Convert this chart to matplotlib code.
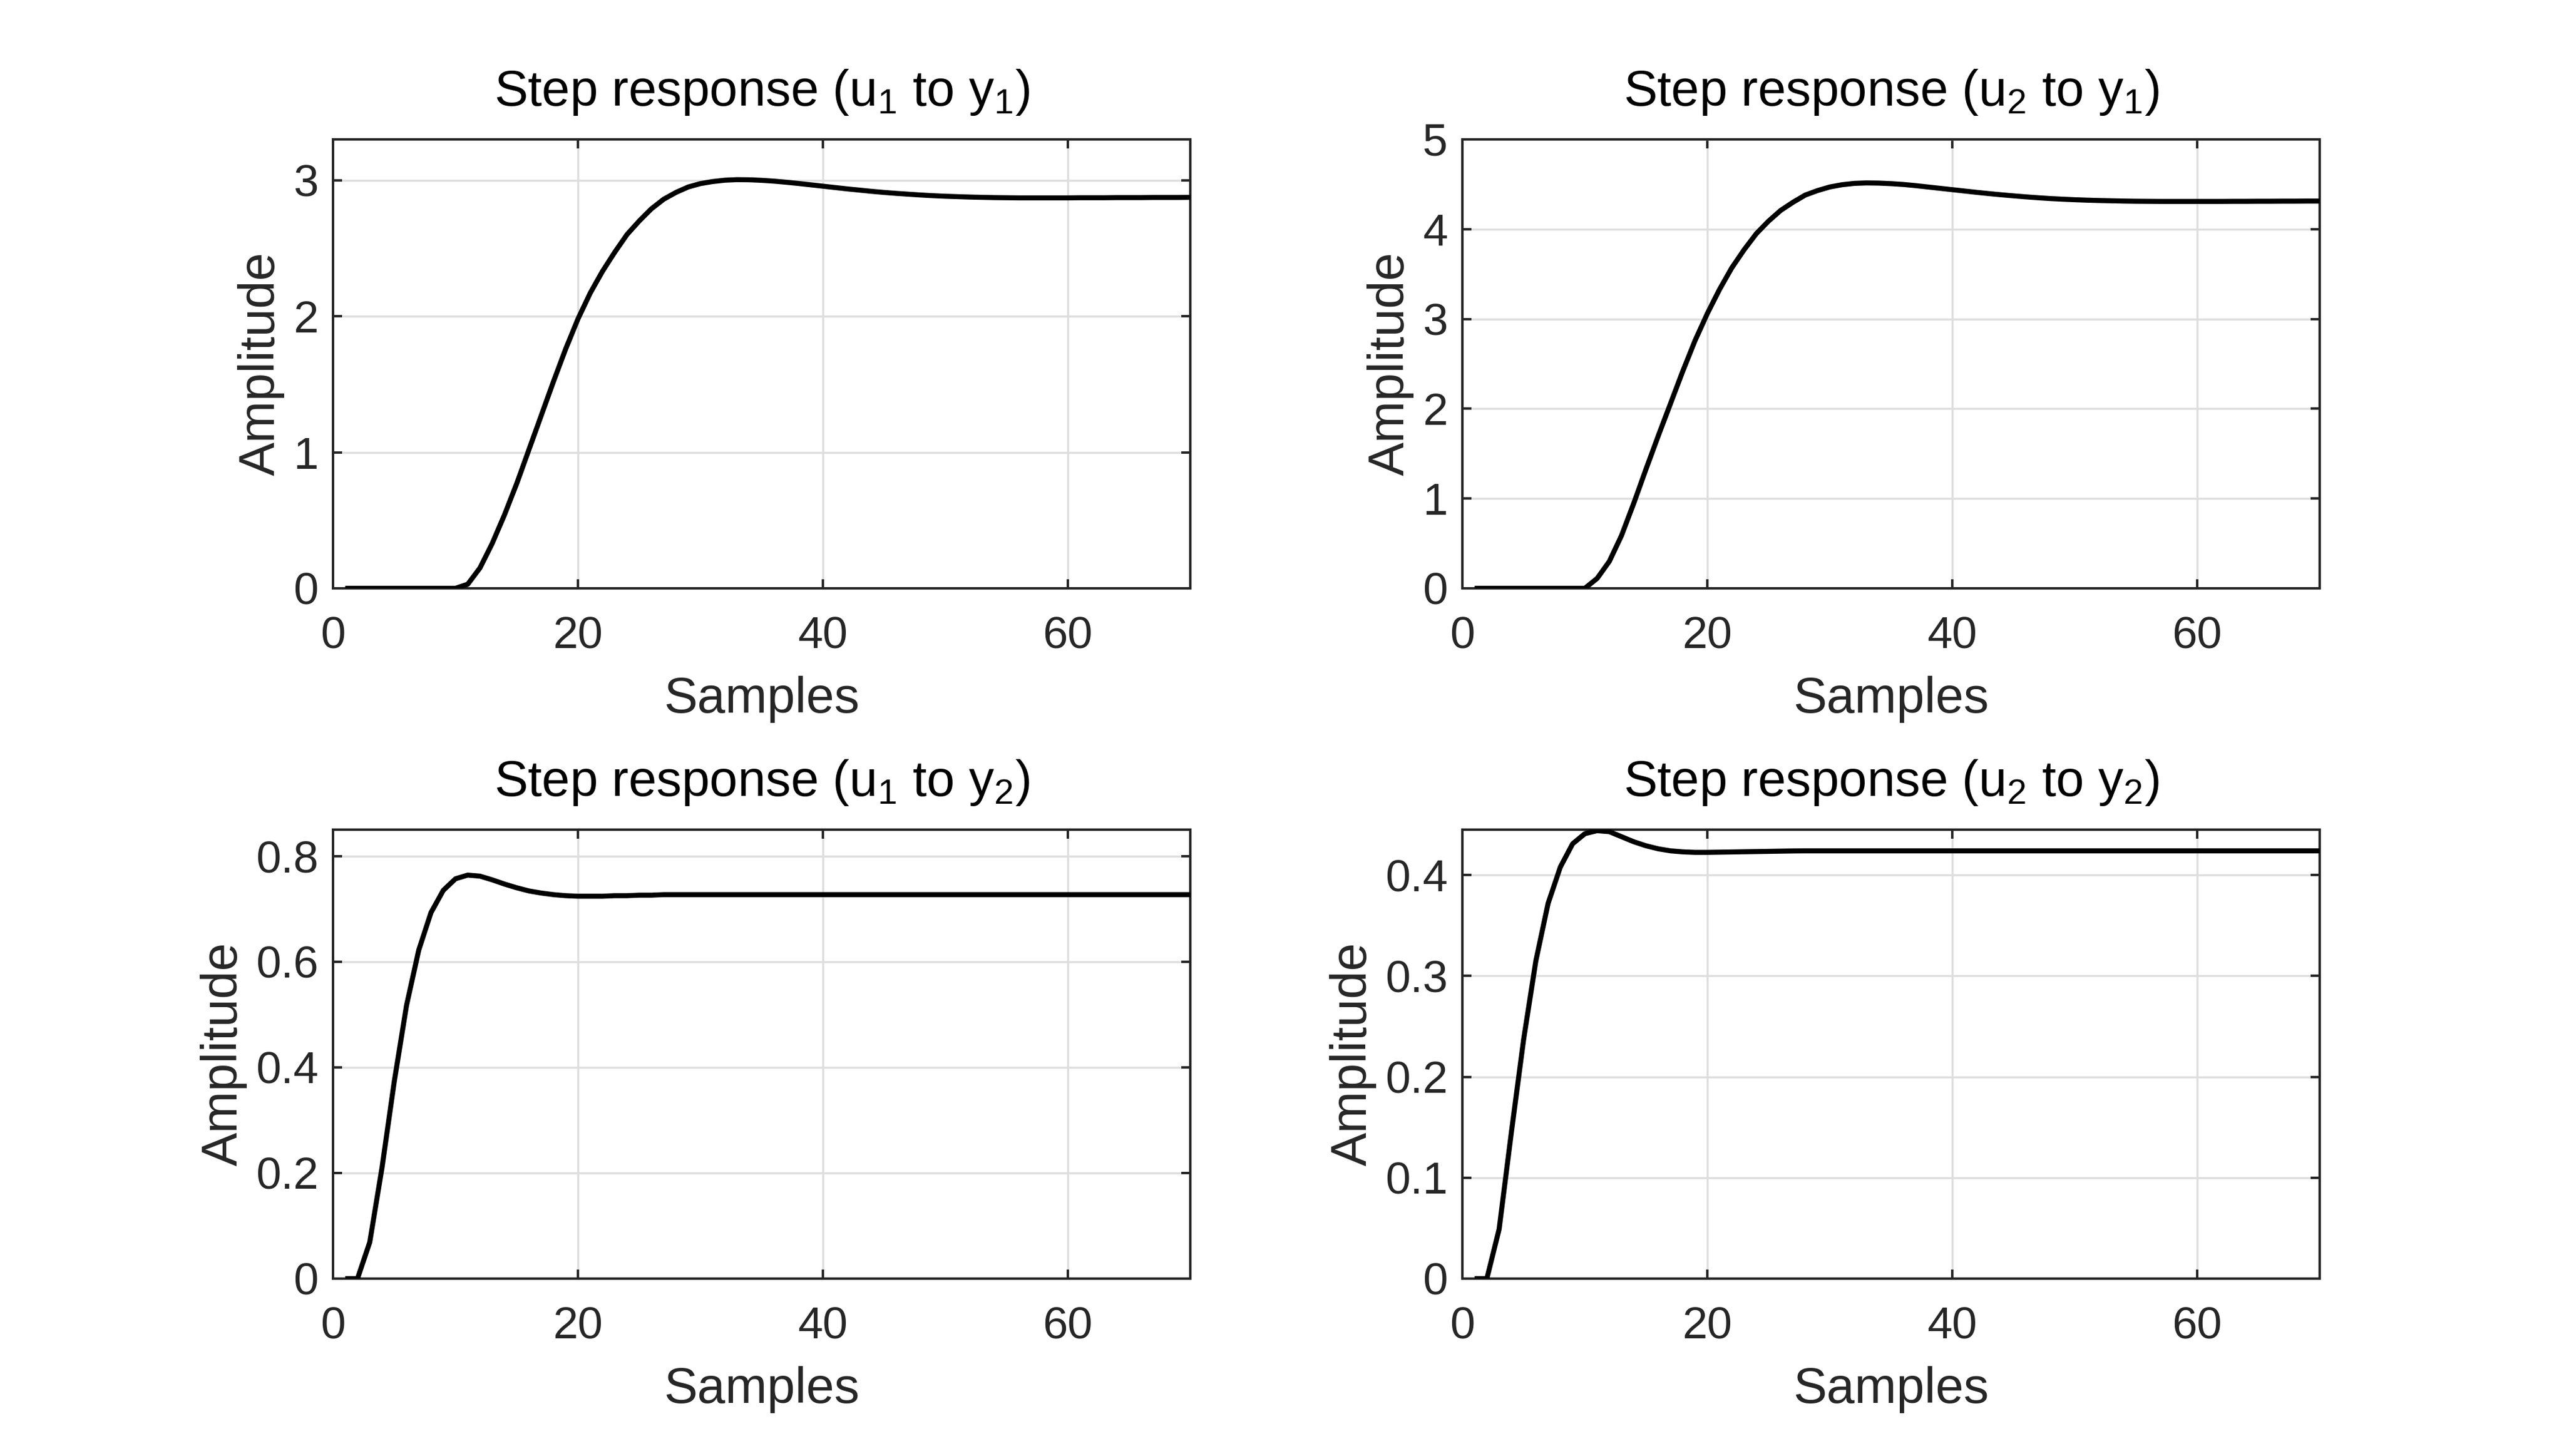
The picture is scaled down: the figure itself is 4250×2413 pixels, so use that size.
import matplotlib
matplotlib.use("Agg")
import matplotlib.pyplot as plt
import numpy as np

plt.rcParams['font.family'] = ['Liberation Sans', 'DejaVu Sans']
plt.rcParams['mathtext.fontset'] = 'custom'
plt.rcParams['mathtext.rm'] = 'Liberation Sans'
plt.rcParams['mathtext.it'] = 'Liberation Sans:italic'
plt.rcParams['mathtext.bf'] = 'Liberation Sans:bold'

samples = list(range(1, 71))

y_u1_y1 = [0, 0, 0, 0, 0, 0, 0, 0, 0, 0,
           0.03, 0.15, 0.33, 0.54, 0.77, 1.02, 1.27, 1.52, 1.76, 1.98,
           2.17, 2.33, 2.47, 2.60, 2.70, 2.79, 2.86, 2.91, 2.95, 2.975,
           2.99, 3.0, 3.004, 3.003, 2.999, 2.993, 2.985, 2.976, 2.966, 2.956,
           2.946, 2.936, 2.927, 2.918, 2.910, 2.903, 2.897, 2.891, 2.886, 2.882,
           2.879, 2.876, 2.874, 2.872, 2.871, 2.870, 2.870, 2.870, 2.870, 2.870,
           2.871, 2.871, 2.871, 2.872, 2.872, 2.872, 2.873, 2.873, 2.873, 2.874]

y_u2_y1 = [0, 0, 0, 0, 0, 0, 0, 0, 0, 0,
           0.11, 0.30, 0.59, 0.95, 1.33, 1.70, 2.06, 2.42, 2.76, 3.06,
           3.33, 3.57, 3.77, 3.95, 4.09, 4.21, 4.30, 4.38, 4.43, 4.47,
           4.495, 4.51, 4.515, 4.513, 4.507, 4.498, 4.485, 4.470, 4.455, 4.440,
           4.425, 4.410, 4.396, 4.383, 4.371, 4.360, 4.350, 4.341, 4.334, 4.328,
           4.323, 4.319, 4.316, 4.313, 4.311, 4.310, 4.309, 4.309, 4.309, 4.309,
           4.309, 4.309, 4.310, 4.310, 4.311, 4.311, 4.312, 4.312, 4.313, 4.313]

y_u1_y2 = [0, 0, 0.069, 0.21, 0.373, 0.517, 0.622, 0.693, 0.735, 0.757,
           0.764, 0.762, 0.755, 0.747, 0.740, 0.734, 0.730, 0.727, 0.725, 0.724,
           0.724, 0.724, 0.725, 0.725, 0.726, 0.726, 0.727, 0.727, 0.727, 0.727,
           0.727, 0.727, 0.727, 0.727, 0.727, 0.727, 0.727, 0.727, 0.727, 0.727,
           0.727, 0.727, 0.727, 0.727, 0.727, 0.727, 0.727, 0.727, 0.727, 0.727,
           0.727, 0.727, 0.727, 0.727, 0.727, 0.727, 0.727, 0.727, 0.727, 0.727,
           0.727, 0.727, 0.727, 0.727, 0.727, 0.727, 0.727, 0.727, 0.727, 0.727]

y_u2_y2 = [0, 0, 0.049, 0.145, 0.237, 0.315, 0.372, 0.408, 0.431, 0.441,
           0.444, 0.443, 0.438, 0.433, 0.429, 0.426, 0.424, 0.423, 0.4225, 0.4225,
           0.4227, 0.4229, 0.4231, 0.4233, 0.4235, 0.4237, 0.4239, 0.424, 0.424, 0.424,
           0.424, 0.424, 0.424, 0.424, 0.424, 0.424, 0.424, 0.424, 0.424, 0.424,
           0.424, 0.424, 0.424, 0.424, 0.424, 0.424, 0.424, 0.424, 0.424, 0.424,
           0.424, 0.424, 0.424, 0.424, 0.424, 0.424, 0.424, 0.424, 0.424, 0.424,
           0.424, 0.424, 0.424, 0.424, 0.424, 0.424, 0.424, 0.424, 0.424, 0.424]

titles = [r'Step response (u$_\mathregular{1}$ to y$_\mathregular{1}$)',
          r'Step response (u$_\mathregular{2}$ to y$_\mathregular{1}$)',
          r'Step response (u$_\mathregular{1}$ to y$_\mathregular{2}$)',
          r'Step response (u$_\mathregular{2}$ to y$_\mathregular{2}$)']
series = [y_u1_y1, y_u2_y1, y_u1_y2, y_u2_y2]
ylims = [(0, 3.3), (0, 5), (0, 0.85), (0, 0.445)]
yticks = [[0, 1, 2, 3], [0, 1, 2, 3, 4, 5], [0, 0.2, 0.4, 0.6, 0.8],
          [0, 0.1, 0.2, 0.3, 0.4]]
yticklabels = [['0', '1', '2', '3'], ['0', '1', '2', '3', '4', '5'],
               ['0', '0.2', '0.4', '0.6', '0.8'],
               ['0', '0.1', '0.2', '0.3', '0.4']]
xticks = [0, 20, 40, 60]

W, H = 4250, 2413
dpi = 250
fig = plt.figure(figsize=(W / dpi, H / dpi), dpi=dpi)

lefts = [552 / W, 2424 / W]
width = 1421 / W
bottoms = [1 - 975 / H, 1 - 2119 / H]
height = 744 / H

dark = '#262626'
positions = [(lefts[0], bottoms[0]), (lefts[1], bottoms[0]),
             (lefts[0], bottoms[1]), (lefts[1], bottoms[1])]

for i, (l, b) in enumerate(positions):
    ax = fig.add_axes([l, b, width, height])
    ax.plot(samples, series[i], color='black', linewidth=2.4,
            solid_capstyle='butt', solid_joinstyle='round', zorder=3)
    ax.set_xlim(0, 70)
    ax.set_ylim(*ylims[i])
    ax.set_xticks(xticks)
    ax.set_xticklabels([str(t) for t in xticks])
    ax.set_yticks(yticks[i])
    ax.set_yticklabels(yticklabels[i])
    ax.grid(True, color='#dedede', linewidth=1.0, zorder=0)
    ax.set_axisbelow(True)
    for s in ax.spines.values():
        s.set_color(dark)
        s.set_linewidth(1.15)
    ax.tick_params(direction='in', length=4.2, width=1.15, colors=dark,
                   labelsize=21.5, top=True, right=True)
    ax.tick_params(axis='x', pad=13)
    ax.tick_params(axis='y', pad=7)
    ax.set_xlabel('Samples', fontsize=24, color=dark, labelpad=9)
    ax.set_ylabel('Amplitude', fontsize=24, color=dark, labelpad=4)
    ax.set_title(titles[i], fontsize=24, color='black', pad=16)

fig.savefig('out.png', dpi=dpi, facecolor='white')
